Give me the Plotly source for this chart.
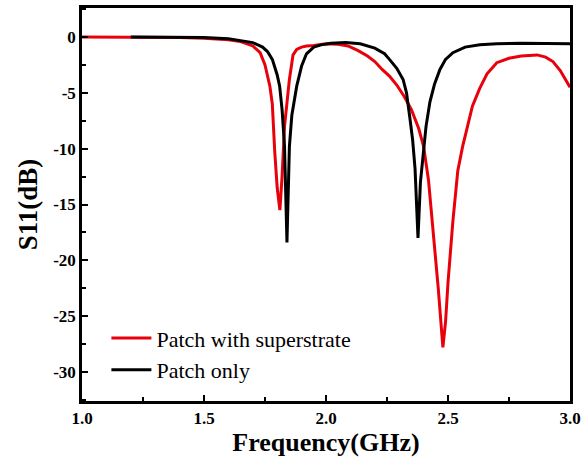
import plotly.graph_objects as go

# Patch with superstrate (red)
freq_super = [1.0, 1.2, 1.4, 1.5, 1.55, 1.6, 1.65, 1.7, 1.73, 1.75, 1.77, 1.78, 1.79, 1.80, 1.811,
              1.82, 1.83, 1.84, 1.85, 1.865, 1.88, 1.9, 1.92, 1.95, 2.0, 2.05, 2.09, 2.13, 2.17,
              2.2, 2.23, 2.26, 2.29, 2.32, 2.35, 2.38, 2.40, 2.42, 2.44, 2.46, 2.479, 2.49, 2.50,
              2.52, 2.54, 2.56, 2.58, 2.60, 2.63, 2.66, 2.70, 2.75, 2.80, 2.865, 2.90, 2.93, 2.96,
              2.98, 3.0]
s11_super = [0, 0, -0.05, -0.1, -0.15, -0.25, -0.4, -0.8, -1.4, -2.5, -4.4, -6.0, -10.3, -13.5, -15.5,
             -12.5, -8.0, -5.8, -3.8, -1.6, -1.1, -0.9, -0.8, -0.75, -0.6, -0.65, -0.8, -1.2, -1.7,
             -2.2, -2.9, -3.5, -4.3, -5.3, -6.5, -8.2, -9.8, -12.8, -17.5, -22.5, -27.8, -25.5, -22.0,
             -16.5, -12.0, -9.8, -8.0, -6.2, -4.6, -3.3, -2.3, -1.9, -1.7, -1.6, -1.8, -2.2, -3.0,
             -3.7, -4.5]

# Patch only (black)
freq_patch = [1.2, 1.4, 1.5, 1.6, 1.65, 1.7, 1.74, 1.76, 1.78, 1.80, 1.81, 1.82, 1.83, 1.84, 1.85,
              1.86, 1.88, 1.90, 1.92, 1.95, 1.98, 2.02, 2.08, 2.14, 2.2, 2.24, 2.26, 2.29, 2.316,
              2.33, 2.344, 2.355, 2.365, 2.377, 2.387, 2.398, 2.41, 2.426, 2.445, 2.467, 2.49, 2.52,
              2.57, 2.63, 2.7, 2.8, 2.9, 3.0]
s11_patch = [0, -0.02, -0.05, -0.15, -0.3, -0.5, -0.9, -1.3, -2.0, -3.4, -4.4, -6.5, -9.8, -18.4, -9.8,
             -7.0, -4.4, -2.6, -1.5, -0.9, -0.7, -0.55, -0.5, -0.6, -1.0, -1.5, -2.0, -2.8, -3.8,
             -5.0, -7.3, -9.2, -11.8, -18.0, -13.0, -10.3, -8.0, -5.8, -4.2, -2.9, -2.0, -1.4,
             -0.9, -0.7, -0.6, -0.55, -0.55, -0.6]

x_ticks = [1.0, 1.5, 2.0, 2.5, 3.0]
x_tick_labels = ["1.0", "1.5", "2.0", "2.5", "3.0"]
y_ticks = [0, -5, -10, -15, -20, -25, -30]
y_tick_labels = ["0", "-5", "-10", "-15", "-20", "-25", "-30"]

serif = "Liberation Serif"

fig = go.Figure()
fig.add_trace(go.Scatter(x=freq_super, y=s11_super, mode="lines", name="Patch with superstrate",
                         line=dict(color="#e8000b", width=3)))
fig.add_trace(go.Scatter(x=freq_patch, y=s11_patch, mode="lines", name="Patch only",
                         line=dict(color="#000000", width=3)))

axis_common = dict(
    showline=True, linecolor="black", linewidth=2.5, mirror=True,
    ticks="inside", ticklen=6, tickwidth=2, tickcolor="black",
    showgrid=False, zeroline=False,
    tickfont=dict(family=serif, size=17, color="black", weight="bold"),
)

fig.update_layout(
    width=586, height=465,
    margin=dict(l=82, r=15, t=5, b=64),
    paper_bgcolor="white", plot_bgcolor="white",
    xaxis=dict(range=[1.0, 3.0], tickvals=x_ticks, ticktext=x_tick_labels,
               minor=dict(ticks="inside", ticklen=4, tickwidth=2, tickcolor="black", dtick=0.25),
               title=dict(text="Frequency(GHz)", font=dict(family=serif, size=26, color="black", weight="bold"),
                          standoff=6),
               **axis_common),
    yaxis=dict(range=[-32.6, 2.6], tickvals=y_ticks, ticktext=y_tick_labels,
               minor=dict(ticks="inside", ticklen=4, tickwidth=2, tickcolor="black", dtick=2.5),
               title=dict(text="S11(dB)", font=dict(family=serif, size=27, color="black", weight="bold"),
                          standoff=8),
               **axis_common),
    legend=dict(x=0.05, y=0.213, xanchor="left", yanchor="top", bgcolor="rgba(0,0,0,0)",
                font=dict(family=serif, size=22, color="black"), tracegroupgap=0,
                itemwidth=40),
    showlegend=True,
)

fig.write_html("out.html", config={"displayModeBar": False},
               post_script="document.body.style.margin='0';")
